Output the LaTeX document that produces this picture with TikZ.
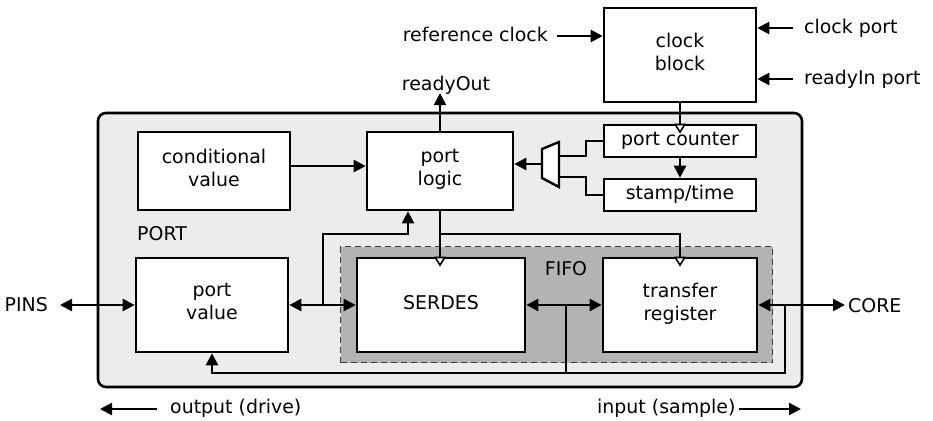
\documentclass[tikz,border=0pt]{standalone}
\usepackage{fontspec}
\setmainfont{DejaVu Sans}
\usetikzlibrary{arrows.meta}
\definecolor{portbg}{RGB}{236,236,236}
\definecolor{fifobg}{RGB}{179,179,179}
\definecolor{dashc}{RGB}{60,60,60}
\begin{document}
\begin{tikzpicture}[x=1bp,y=-1bp,
  font=\fontsize{19}{23}\selectfont,
  box/.style={draw, line width=2.6bp, fill=white, align=center, inner sep=0pt, execute at end node=\strut},
  conn/.style={line width=2.4bp},
  fa/.style={-{Triangle[length=12bp,width=12bp]}},
  da/.style={{Triangle[length=12bp,width=12bp]}-{Triangle[length=12bp,width=12bp]}},
  ha/.style={-{Triangle[open,fill=white,length=10bp,width=12bp,line width=1.6bp]}},
  txt/.style={inner sep=0pt},
]
\useasboundingbox (0,0) rectangle (933,420);

% containers
\node[draw, line width=2.6bp, fill=portbg, rounded corners=8bp, minimum width=704bp, minimum height=274bp, inner sep=0pt] (port) at (450,250) {};
\node[draw=dashc, dash pattern=on 6bp off 4bp, line width=1.2bp, fill=fifobg, minimum width=432bp, minimum height=116bp, inner sep=0pt] (fifo) at (556.5,304.5) {};

% boxes
\node[box, minimum width=152bp, minimum height=94bp] (clk) at (680,55) {clock\\block};
\node[box, minimum width=152bp, minimum height=78bp] (cond) at (214,171) {conditional\\value};
\node[box, minimum width=146bp, minimum height=78bp] (logic) at (440,171) {port\\logic};
\node[box, minimum width=152bp, minimum height=32bp] (pcount) at (680,141) {port counter};
\node[box, minimum width=152bp, minimum height=32bp] (stamp) at (680,195) {stamp/time};
\node[box, minimum width=152bp, minimum height=94bp] (pvalue) at (212,305) {port\\value};
\node[box, minimum width=168bp, minimum height=94bp] (serdes) at (441,305) {SERDES};
\node[box, minimum width=154bp, minimum height=94bp] (treg) at (680,305) {transfer\\register};

% plain labels
\node[txt, anchor=base east] (refclk) at (548,41) {reference clock};
\node[txt, anchor=base] (rdyout) at (446,90) {readyOut};
\node[txt, anchor=base west] (clkport) at (804,33) {clock port};
\node[txt, anchor=base west] (rdyin) at (804,84) {readyIn port};
\node[txt, anchor=base west] (portlbl) at (137,240) {PORT};
\node[txt, anchor=base east] (pins) at (48,311) {PINS};
\node[txt, anchor=base west] (core) at (848,312) {CORE};
\node[txt, anchor=base] (fifolbl) at (566,275) {FIFO};
\node[txt, anchor=base west] (outdrv) at (170,413) {output (drive)};
\node[txt, anchor=base west] (insmp) at (597,413) {input (sample)};

% mux
\draw[line width=2.4bp, fill=white] (542,149) -- (559,142) -- (559,187) -- (542,178) -- cycle;
\coordinate (muxout) at (542,164);
\coordinate (muxin1) at (559,156);
\coordinate (muxin2) at (559,177);
\coordinate (mx) at (586,0);

% helper coordinates
\coordinate (hy) at (0,234);
\coordinate (by) at (0,373);
\coordinate (j1) at (323,305);
\coordinate (j2) at (566,305);
\coordinate (j3) at (785,305);
\coordinate (outtail) at (157,409);
\coordinate (outtip) at (100,409);
\coordinate (intail) at (739,409);
\coordinate (intip) at (801,409);

% clock block inputs
\draw[conn,fa] ([xshift=9bp]refclk.east |- 0,36) -- (clk.west |- 0,36);
\draw[conn,fa] ([xshift=-11bp]clkport.west |- 0,28) -- (clk.east |- 0,28);
\draw[conn,fa] ([xshift=-11bp]rdyin.west |- 0,79) -- (clk.east |- 0,79);

% clock chain
\draw[conn,ha] (clk.south) -- ([yshift=-10bp]pcount.north);
\draw[conn,fa] (pcount.south) -- (stamp.north);

% mux
\draw[conn] (muxin1) -- (muxin1 -| mx) |- (pcount.west);
\draw[conn] (muxin2) -- (muxin2 -| mx) |- (stamp.west);
\draw[conn,fa] (muxout) -- (muxout -| logic.east);

% port logic
\draw[conn,fa] ([yshift=5bp]cond.east) -- ([yshift=5bp]logic.west);
\draw[conn,fa] (logic.north) -- ([yshift=1bp]logic.north |- rdyout.south);
\draw[conn,ha] (logic.south) -- ([yshift=-10bp]logic.south |- serdes.north);
\draw[conn,ha] (logic.south |- hy) -| ([yshift=-10bp]treg.north);
\draw[conn,fa] (j1) |- ([xshift=-32bp]logic.south |- hy) -- ([xshift=-32bp]logic.south);

% data path
\draw[conn,da] ([xshift=12bp]pins.east |- pvalue.west) -- (pvalue.west);
\draw[conn,da] (pvalue.east) -- (serdes.west);
\draw[conn,da] (serdes.east) -- (treg.west);
\draw[conn,da] (treg.east) -- ([xshift=-3bp]core.west |- treg.east);
\draw[conn] (j2) -- (j2 |- by);
\draw[conn,fa] (j3) |- (pvalue.south |- by) -- (pvalue.south);

% direction arrows
\draw[conn,fa] (outtail) -- (outtip);
\draw[conn,fa] (intail) -- (intip);
\end{tikzpicture}
\end{document}
